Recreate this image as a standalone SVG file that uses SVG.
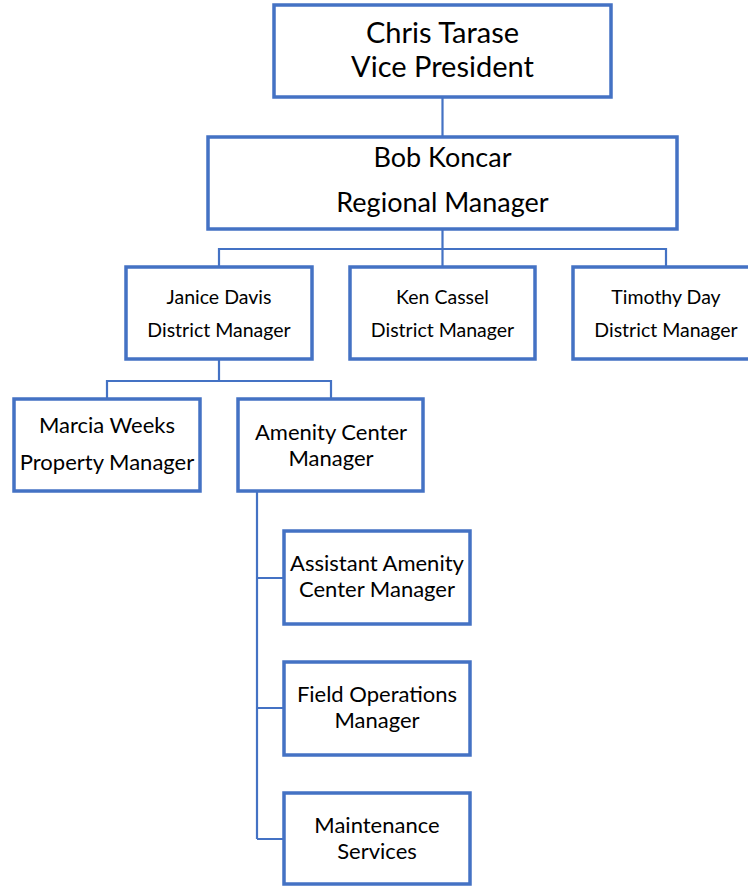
<svg xmlns="http://www.w3.org/2000/svg" width="748" height="886" viewBox="0 0 748 886">
<style>
.box{fill:#fff;stroke:#4472C4;stroke-width:3.5}
.ln{fill:none;stroke:#4472C4;stroke-width:2.2}
text{font-family:Lato,"Open Sans",sans-serif;fill:#000;text-anchor:middle}
.t1{font-size:29px}
.t2{font-size:27px}
.t3{font-size:19.5px}
.t4{font-size:22px}
</style>
<rect width="748" height="886" fill="#fff"/>
<g id="connectors">
<path class="ln" d="M442.5,98V137"/>
<path class="ln" d="M442.5,229V249M219,267V249H666V267M442.5,249V267"/>
<path class="ln" d="M219,359V381M107,399V381H331V399"/>
<path class="ln" d="M257,491V839M257,578H283M257,708H283M257,839H283"/>
</g>
<g id="n-chris"><rect class="box" x="274" y="5" width="337" height="92"/>
<text class="t1" x="442.5" y="43">Chris Tarase</text><text class="t1" x="442.5" y="77">Vice President</text></g>
<g id="n-bob"><rect class="box" x="208" y="137" width="469" height="92"/>
<text class="t2" x="442.5" y="167">Bob Koncar</text><text class="t2" x="442.5" y="212">Regional Manager</text></g>
<g id="n-janice"><rect class="box" x="126" y="267" width="186" height="92"/>
<text class="t3" x="219" y="304">Janice Davis</text><text class="t3" x="219" y="337">District Manager</text></g>
<g id="n-ken"><rect class="box" x="350" y="267" width="185" height="92"/>
<text class="t3" x="442.5" y="304">Ken Cassel</text><text class="t3" x="442.5" y="337">District Manager</text></g>
<g id="n-timothy"><rect class="box" x="573" y="267" width="186" height="92"/>
<text class="t3" x="666" y="304">Timothy Day</text><text class="t3" x="666" y="337">District Manager</text></g>
<g id="n-marcia"><rect class="box" x="14" y="399" width="186" height="92"/>
<text class="t4" x="107" y="433">Marcia Weeks</text><text class="t4" x="107" y="470">Property Manager</text></g>
<g id="n-amenity"><rect class="box" x="238" y="399" width="185" height="92"/>
<text class="t4" x="331" y="440">Amenity Center</text><text class="t4" x="331" y="466">Manager</text></g>
<g id="n-assistant"><rect class="box" x="284" y="531" width="186" height="93"/>
<text class="t4" x="377" y="571">Assistant Amenity</text><text class="t4" x="377" y="597">Center Manager</text></g>
<g id="n-field"><rect class="box" x="284" y="662" width="186" height="93"/>
<text class="t4" x="377" y="702">Field Operations</text><text class="t4" x="377" y="728">Manager</text></g>
<g id="n-maint"><rect class="box" x="284" y="793" width="186" height="91"/>
<text class="t4" x="377" y="833">Maintenance</text><text class="t4" x="377" y="859">Services</text></g>
</svg>
